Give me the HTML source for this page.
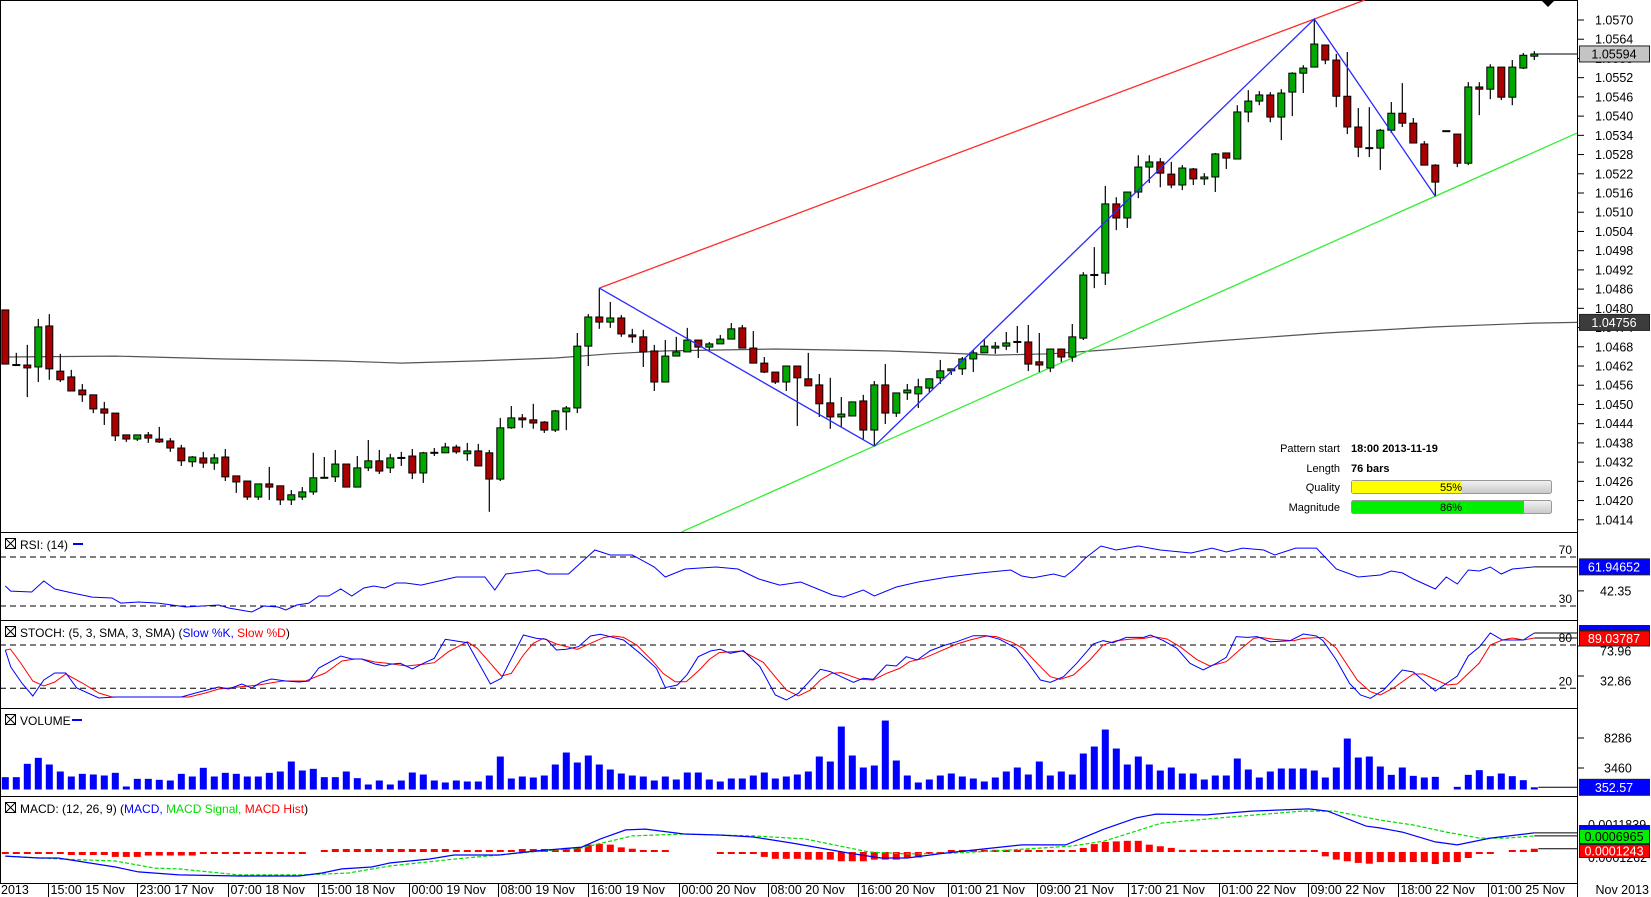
<!DOCTYPE html>
<html><head><meta charset="utf-8"><title>EUR chart</title>
<style>
html,body{margin:0;padding:0;background:#fff;}
svg{display:block;font-family:"Liberation Sans",Arial,sans-serif;}
</style></head>
<body>
<svg id="chart" width="1651" height="897" viewBox="0 0 1651 897" xmlns="http://www.w3.org/2000/svg">
<defs>
<clipPath id="cMain"><rect x="0" y="0" width="1577" height="532"/></clipPath>
<clipPath id="cRsi"><rect x="0" y="532" width="1577" height="88"/></clipPath>
<clipPath id="cSto"><rect x="0" y="620" width="1577" height="88"/></clipPath>
<clipPath id="cVol"><rect x="0" y="708" width="1577" height="88"/></clipPath>
<clipPath id="cMacd"><rect x="0" y="796" width="1577" height="87"/></clipPath>
<linearGradient id="gBar" x1="0" y1="0" x2="0" y2="1"><stop offset="0" stop-color="#f2f2f2"/><stop offset="1" stop-color="#c8c8c8"/></linearGradient>
</defs>
</svg>
<script>
// ---------- DATA ----------
const openP=[1.04795,1.04623,1.04623,1.04617,1.04745,1.04604,1.04586,1.04545,1.04530,1.04486,
1.04473,1.04405,1.04392,1.04405,1.04392,1.04386,1.04364,1.04321,1.04333,1.04317,
1.04336,1.04277,1.04261,1.04211,1.04252,1.04246,1.04202,1.04211,1.04227,1.04271,
1.04274,1.04314,1.04242,1.04302,1.04324,1.04302,1.04333,1.04339,1.04286,1.04349,
1.04349,1.04367,1.04346,1.04355,1.04349,1.04267,1.04427,1.04458,1.04452,1.04445,
1.04420,1.04477,1.04489,1.04682,1.04773,1.04757,1.04770,1.04717,1.04711,1.04667,
1.04570,1.04651,1.04664,1.04701,1.04679,1.04689,1.04704,1.04739,1.04676,1.04629,
1.04601,1.04570,1.04620,1.04580,1.04561,1.04505,1.04461,1.04464,1.04511,1.04420,
1.04561,1.04473,1.04536,1.04533,1.04551,1.04583,1.04605,1.04611,1.04642,1.04661,
1.04676,1.04682,1.04695,1.04695,1.04633,1.04614,1.04673,1.04648,1.04707,1.04904,
1.04910,1.05126,1.05082,1.05163,1.05241,1.05257,1.05219,1.05185,1.05235,1.05204,
1.05210,1.05285,1.05266,1.05413,1.05447,1.05466,1.05397,1.05475,1.05534,1.05553,
1.05622,1.05575,1.05462,1.05366,1.05300,1.05300,1.05356,1.05409,1.05378,1.05313,
1.05247,1.05353,1.05344,1.05253,1.05491,1.05484,1.05553,1.05459,1.05550,1.05587];
const highP=[1.04795,1.04661,1.04686,1.04767,1.04782,1.04658,1.04608,1.04564,1.04530,1.04508,
1.04473,1.04405,1.04405,1.04414,1.04430,1.04395,1.04374,1.04339,1.04352,1.04346,
1.04361,1.04277,1.04261,1.04252,1.04305,1.04246,1.04233,1.04242,1.04349,1.04336,
1.04358,1.04314,1.04339,1.04389,1.04358,1.04346,1.04352,1.04361,1.04352,1.04364,
1.04380,1.04374,1.04380,1.04377,1.04358,1.04458,1.04495,1.04470,1.04502,1.04448,
1.04483,1.04495,1.04723,1.04782,1.04863,1.04820,1.04779,1.04736,1.04733,1.04686,
1.04701,1.04711,1.04739,1.04701,1.04695,1.04717,1.04754,1.04748,1.04729,1.04648,
1.04601,1.04620,1.04620,1.04661,1.04595,1.04583,1.04523,1.04508,1.04530,1.04573,
1.04626,1.04536,1.04564,1.04580,1.04580,1.04639,1.04611,1.04648,1.04670,1.04704,
1.04695,1.04726,1.04745,1.04748,1.04723,1.04673,1.04673,1.04751,1.04913,1.04991,
1.05182,1.05147,1.05163,1.05278,1.05278,1.05269,1.05257,1.05247,1.05238,1.05222,
1.05285,1.05285,1.05434,1.05481,1.05478,1.05475,1.05484,1.05537,1.05559,1.05703,
1.05622,1.05594,1.05600,1.05425,1.05428,1.05360,1.05444,1.05503,1.05394,1.05322,
1.05250,1.05353,1.05344,1.05506,1.05506,1.05562,1.05553,1.05575,1.05597,1.05603];
const lowP=[1.04626,1.04620,1.04523,1.04570,1.04577,1.04570,1.04542,1.04508,1.04473,1.04436,
1.04386,1.04383,1.04386,1.04380,1.04380,1.04352,1.04308,1.04305,1.04302,1.04296,
1.04261,1.04224,1.04202,1.04202,1.04202,1.04186,1.04186,1.04202,1.04218,1.04271,
1.04258,1.04242,1.04242,1.04292,1.04283,1.04286,1.04308,1.04267,1.04255,1.04339,
1.04349,1.04346,1.04324,1.04308,1.04165,1.04261,1.04424,1.04427,1.04424,1.04411,
1.04414,1.04420,1.04473,1.04620,1.04736,1.04739,1.04711,1.04692,1.04617,1.04542,
1.04570,1.04651,1.04664,1.04645,1.04670,1.04689,1.04704,1.04676,1.04629,1.04598,
1.04564,1.04542,1.04433,1.04558,1.04461,1.04424,1.04430,1.04464,1.04389,1.04370,
1.04439,1.04461,1.04514,1.04489,1.04539,1.04564,1.04592,1.04592,1.04601,1.04661,
1.04658,1.04670,1.04661,1.04604,1.04601,1.04601,1.04633,1.04633,1.04701,1.04863,
1.04873,1.05044,1.05051,1.05144,1.05191,1.05178,1.05175,1.05169,1.05185,1.05185,
1.05163,1.05235,1.05266,1.05381,1.05434,1.05381,1.05325,1.05400,1.05472,1.05553,
1.05562,1.05428,1.05344,1.05272,1.05272,1.05232,1.05347,1.05366,1.05316,1.05247,
1.05150,1.05353,1.05241,1.05247,1.05403,1.05453,1.05450,1.05434,1.05547,1.05575];
const closeP=[1.04626,1.04623,1.04614,1.04742,1.04611,1.04577,1.04542,1.04530,1.04486,1.04473,
1.04402,1.04392,1.04405,1.04395,1.04383,1.04364,1.04324,1.04336,1.04317,1.04333,
1.04274,1.04258,1.04211,1.04252,1.04242,1.04202,1.04218,1.04227,1.04271,1.04271,
1.04314,1.04242,1.04302,1.04324,1.04292,1.04333,1.04333,1.04286,1.04349,1.04349,
1.04367,1.04352,1.04355,1.04308,1.04267,1.04427,1.04458,1.04452,1.04442,1.04420,
1.04480,1.04489,1.04682,1.04773,1.04757,1.04770,1.04720,1.04711,1.04664,1.04570,
1.04651,1.04664,1.04701,1.04679,1.04689,1.04704,1.04736,1.04676,1.04629,1.04601,
1.04570,1.04620,1.04583,1.04558,1.04502,1.04461,1.04470,1.04508,1.04420,1.04561,
1.04473,1.04536,1.04545,1.04555,1.04580,1.04605,1.04611,1.04642,1.04661,1.04682,
1.04682,1.04692,1.04695,1.04626,1.04623,1.04673,1.04648,1.04711,1.04904,1.04904,
1.05126,1.05082,1.05163,1.05241,1.05257,1.05222,1.05185,1.05238,1.05204,1.05210,
1.05282,1.05269,1.05413,1.05447,1.05466,1.05397,1.05472,1.05534,1.05550,1.05625,
1.05575,1.05462,1.05366,1.05303,1.05300,1.05356,1.05409,1.05378,1.05316,1.05247,
1.05194,1.05353,1.05253,1.05491,1.05484,1.05553,1.05459,1.05553,1.05590,1.05594];
const maIdx=[0,10,20,30,36,43,50,55,60,70,80,85,90,95,100,110,120,130,139];
const maVal=[1.04648,1.04651,1.04642,1.04636,1.04629,1.04636,1.04645,1.04658,1.04667,1.04673,1.04667,1.04661,1.04654,1.04658,1.04670,1.04698,1.04723,1.04742,1.04754];
const maLast=1.04756;
const pivotIdx=[54,79,119,130];
const priceTicks=[1.0570,1.0564,1.0558,1.0552,1.0546,1.0540,1.0534,1.0528,1.0522,1.0516,1.0510,1.0504,1.0498,1.0492,1.0486,1.0480,1.0474,1.0468,1.0462,1.0456,1.0450,1.0444,1.0438,1.0432,1.0426,1.0420,1.0414];
const volume=[1985,1985,4130,5095,4023,2896,2092,2521,2414,2253,2682,483,1716,1716,1555,1448,2521,2092,3487,2092,
2682,2521,2092,2092,2682,2896,4505,3057,3325,1985,1985,2896,1823,805,1448,
804,1447,2734,2412,1447,1126,1447,1286,1286,2251,5306,1769,2090,1930,2251,4020,5950,4342,5467,4020,3216,2573,2251,2090,1447,
2090,1608,2734,2734,1608,1286,1769,1769,2251,2734,1769,2090,2412,2894,5306,4502,10130,5467,3538,3859,11095,
4663,2251,1126,1608,2251,2573,2090,1769,1286,1930,2894,3538,2412,4502,2251,2894,2412,5789,6914,9648,6592,4020,5306,4020,3055,3538,2573,2573,1608,2251,2251,4985,3216,1930,2894,3377,3377,3377,3055,1930,3538,8201,5146,5306,3698,2358,3538,
2198,1930,2037,0,429,2358,3109,2144,2573,2144,1501,353];
const volTicks=[8286,3460];
const volLast=352.57;
const rsiIdx=[0,0.5,2.4,3.5,4.5,6.1,7.9,9.7,10.5,12.1,13.9,15.8,16.4,19.4,20.3,22.4,23.5,24.8,25.5,26.5,27.6,28.5,29.4,30.5,31.5,32.6,33.5,34.5,35.5,36.4,37.8,41,43.6,44.5,45.5,48.4,49.3,51.2,52.2,53.6,55,57,59,60,61.8,64.6,66.6,68.5,70.4,72.3,75.2,76.2,78,79,81,83,85.7,88.6,91.4,92.4,93.4,95.3,96.3,97.2,98.2,99.6,101,103,105,107.8,109.7,111,112.5,114.4,115.4,117.3,119.2,121,123,125,126,127,128,129,130,131,132,133,134,135,136,137,138,139];
const rsiVal=[46.3,42.2,41.4,50.4,43.9,40.6,37.3,36.5,32.4,33.3,32.4,30.0,29.2,30.8,28.4,25.1,30.0,29.2,26.7,30.8,32.4,38.2,38.2,43.9,38.2,44.7,46.3,44.7,48.8,48.8,47.1,53.7,53.7,43.1,56.1,59.4,56.1,56.1,64.3,75.7,71.6,71.6,61.8,53.7,60.2,61.8,60.2,52.0,47.1,49.6,39.0,37.3,43.1,38.2,45.5,49.6,53.7,56.9,59.4,54.5,52.9,56.1,53.7,60.2,69.2,79.0,75.7,79.0,75.7,73.3,77.3,74.1,77.3,75.7,71.6,77.3,77.3,60.2,53.7,55.3,58.6,57.0,52.0,48.0,43.9,53.7,48.0,59.4,58.6,61.8,56.1,60.2,61.0,61.9];
const rsiLast=61.94652;
const kIdx=[0,0.5,1.5,2.5,3.5,4.5,5.5,6.5,8.5,10,13,16,17.3,19.4,20.3,21.5,22.4,23.3,24.2,25.5,26.7,27.6,28.5,30.5,31.5,32.4,33.6,34.5,35,35.9,37,38,39,40,41,42,44.1,45.1,47.1,48.3,49.2,50.1,51,52.1,53.2,54.1,55,56.2,57.7,59.2,60,61.1,62,63,64.1,65,65.9,67.1,68.6,70,71,72.1,74.1,75,77.1,78,78.9,80.1,81,81.9,82.9,84.1,85.3,86.5,88,89.2,90.4,91.9,92.9,94.1,95,96.2,97.4,98.9,99.8,100.7,101.9,103.5,104.1,105.3,106.5,107.7,108.9,110.1,111,111.9,112.9,113.8,115,116.8,118,119.2,119.8,121,122.2,123.2,124.1,125.3,127,128,130,132,133,134,135,136.1,138,139];
const kVal=[73,49.5,27.3,9.3,31.5,41.2,41.2,20.4,6.5,7.9,7.9,7.9,13.5,21.8,19,26,20.4,28.7,32.9,30.1,28.7,30.1,48.1,64.8,60.6,60.6,53.7,50.9,53.2,54.6,46.7,54.6,61.5,87.9,85.5,83.2,25.9,33.8,93.9,89.2,87.9,73.1,74,77.7,92.5,94.8,91.5,86.9,68.5,47.6,20.9,24.6,39.4,63.8,71.7,74,68.5,72.2,50,10.7,3.8,13,46.3,43.1,28.3,33.8,32.4,52.3,50.9,63.8,59.2,72.2,79.1,84.6,92.9,92.9,87.9,75.4,56.9,31.5,28.3,36.1,54.6,81.4,86,83.2,90.6,90.6,93.9,86,75.4,54.6,45.4,54.6,62.9,91.6,90.6,91.6,84.6,86,95.2,92.5,86,59.2,26.9,10.7,6.1,17.6,45.3,42.6,16.2,37,64.8,77.2,96.6,86.9,86.9,96.6];
const dIdx=[0,0.45,1.4,2.5,3.5,4.5,5.5,7,8.5,9.7,16.7,18.2,19.4,21.2,23,25.2,27.3,29.1,30.6,31.8,32.4,33.6,34.5,36.5,38,39,40.3,42,42.9,44.1,45.1,46,47.1,48,48.9,50.1,52,53.2,54.4,55.3,56.2,57.4,58.9,59.8,60.9,61.9,63.1,64,64.9,66.1,67,68.9,70.1,71,72.1,73.2,74.1,75.1,76,77.7,78.9,80.1,81.3,82.2,83.5,84.7,86.5,87.7,89.2,90.1,91.6,92.5,93.8,95,95.9,97.1,98.6,99.8,101,102.2,103.5,104.4,105.6,106.8,108.3,109.5,111,112.2,113.5,114.1,115.3,117.1,118,119.8,121,122.9,124.1,125,126.2,128,128.9,131.1,132,134,135,136.1,137,138,139];
const dVal=[73,74.5,55.1,30.1,23.2,28.7,39.8,27.3,13.5,7.9,7.9,13.5,19,21.8,24.6,30.1,30.1,41.2,57.8,60.6,60.6,56.4,55,50.9,53.2,55.5,70.8,84.6,75.4,54.6,37,40.7,66.2,82.3,89.2,81.4,74,82.3,90.2,92.5,90.6,80,56.9,40.7,29.2,29.2,45.4,60.1,69.4,70.8,71.7,56,33.8,17.6,9.3,17.6,31.5,40.7,41.7,32.4,31.5,40.7,47.6,56.9,61.5,69.4,81.4,86.9,92.5,91.6,83.2,75.4,54.6,36.1,32.4,38.4,59.2,80,86,87.9,89.2,91.6,88.3,77.7,60.1,50.9,56.9,73.1,89.2,90.6,87.9,86,89.2,90.6,75.4,31.5,15.3,10.7,20.4,39.8,39.8,24.6,26,55,80,86.9,89.7,86.9,89.7];
const stoLast=89.03787;
// MACD values in units of 1e-5
const macdIdx=[0,3,4.8,10,12.1,15.8,21.2,26.7,28.8,30.6,33.3,35,38.5,40.8,44.9,48.3,52.4,54.1,56.4,58.2,61.7,65.1,68,71.5,76.7,79.6,82,85.4,88.9,92.4,96.4,99.9,102.8,104.6,109.2,113.3,118.5,120.2,123.7,125,127,130,132,135,139];
const macdE5=[-15,-22,-22,-55,-73,-84,-88,-88,-77,-62,-55,-40,-26,-11,-11,4,18,48,81,84,66,62,55,33,-4,-22,-22,-4,11,26,26,84,125,139,136,150,158,150,95,88,73,37,26,51,70];
const sigIdx=[0,5.2,10,13.6,15.8,21.2,26.7,28.8,31.2,35,40.8,47.8,52.4,57,61.7,68,72.7,78.5,82,86,90.1,97,99.9,105.1,110.4,117.9,120.8,125,128,131,134,136.5,139];
const sigE5=[-15,-26,-33,-59,-62,-84,-84,-81,-77,-51,-26,0,15,59,66,59,48,0,-7,-4,4,22,40,106,125,150,150,117,99,73,51,51,59];
const histE5=[-3,-3,-3,-3,-6,-6,-11,-11,-11,-11,-18,-18,-18,-13,-13,-13,-13,-13,-4,-4,
-4,-4,-4,-4,-4,-4,-4,-4,0,3,11,11,11,11,11,11,11,11,11,11,
11,6,6,6,5,5,5,11,11,11,11,15,18,27,30,27,17,12,4,2,
1,0,0,0,0,-1,-1,-1,-1,-18,-25,-25,-25,-28,-28,-28,-34,-34,-34,-28,
-28,-28,-20,-20,-3,-3,4,4,4,8,8,8,8,8,2,2,2,2,15,29,
37,39,41,41,27,21,15,8,8,8,6,6,5,5,6,6,5,5,6,5,
-16,-28,-34,-40,-43,-37,-37,-37,-37,-37,-44,-37,-37,-22,-7,-3,0,6,8,12];
const macdLabels=["0.0006965","0.0001243"];
const xTickIdx=[3.9,12,20.25,28.4,36.7,44.8,53,61.2,69.3,77.5,85.7,93.8,102.1,110.3,118.4,126.6,134.8];
const xTickLabels=["15:00 15 Nov","23:00 17 Nov","07:00 18 Nov","15:00 18 Nov","00:00 19 Nov","08:00 19 Nov","16:00 19 Nov","00:00 20 Nov","08:00 20 Nov","16:00 20 Nov","01:00 21 Nov","09:00 21 Nov","17:00 21 Nov","01:00 22 Nov","09:00 22 Nov","18:00 22 Nov","01:00 25 Nov"];
const qualityPct=55, magnitudePct=86;

// ---------- SCALES ----------
const AX=1577;
const NS="http://www.w3.org/2000/svg";
const svg=document.getElementById('chart');
function xOf(i){return 5.3+11*i;}
function yP(p){return 20+(1.0570-p)*32037;}
function yR(v){return 557+(70-v)*1.225;}
function yS(v){return 645+(80-v)/1.386;}
function yV(v){return 789.5-v/160.9;}
function yM(e5){return 852-e5*1e-5/0.0000367;}
function mk(tag,attrs,parent){const e=document.createElementNS(NS,tag);for(const k in attrs)e.setAttribute(k,attrs[k]);(parent||svg).appendChild(e);return e;}
function grp(clip){const g=mk('g',clip?{'clip-path':'url(#'+clip+')'}:{});return g;}
function pts(idx,vals,fy){return idx.map((t,k)=>xOf(t).toFixed(1)+','+fy(vals[k]).toFixed(1)).join(' ');}

// ---------- FRAME ----------
const frame=grp();


[0.5,532.5,620.5,708.5,796.5,883.5].forEach(y=>{const l=mk('line',{x1:0,y1:y,x2:AX,y2:y,stroke:'#000','stroke-width':1},frame);

});
const lb=mk('line',{x1:0.5,y1:0,x2:0.5,y2:884,stroke:'#000'},frame);


const ax=mk('line',{x1:AX+0.5,y1:0,x2:AX+0.5,y2:897,stroke:'#000'},frame);


const tri=mk('polygon',{points:'1541,0 1555,0 1548,7',fill:'#000'},frame);



// ---------- MAIN PRICE PANEL ----------
const gMain=grp('cMain');


const maPts=pts(maIdx,maVal,yP)+' '+AX+','+yP(maLast).toFixed(1);
const ma=mk('polyline',{points:maPts,fill:'none',stroke:'#555',"stroke-width":1.2},gMain);


const pA=[xOf(pivotIdx[0]),yP(highP[pivotIdx[0]])], pB=[xOf(pivotIdx[1]),yP(lowP[pivotIdx[1]])];
const pC=[xOf(pivotIdx[2]),yP(highP[pivotIdx[2]])], pD=[xOf(pivotIdx[3]),yP(lowP[pivotIdx[3]])];
const sR=(pC[1]-pA[1])/(pC[0]-pA[0]);
const redL=mk('line',{x1:pA[0],y1:pA[1],x2:pA[0]+(0-pA[1])/sR,y2:0,stroke:'#ff2a2a','stroke-width':1.3},gMain);


const sG=(pD[1]-pB[1])/(pD[0]-pB[0]);
const gx0=pB[0]+(532-pB[1])/sG;
const grnL=mk('line',{x1:gx0,y1:532,x2:AX,y2:pB[1]+(AX-pB[0])*sG,stroke:'#33ee33','stroke-width':1.3},gMain);


for(let i=0;i<openP.length;i++){
  const x=xOf(i),o=openP[i],c=closeP[i],h=highP[i],l=lowP[i];
  const g=mk('g',{},gMain);
  
  
  if(h!==l){const w=mk('line',{x1:x,y1:yP(h),x2:x,y2:yP(l),stroke:'#000','stroke-width':1.2},g);
    
    }
  const top=yP(Math.max(o,c)),bot=yP(Math.min(o,c));
  if(bot-top<1.5){const d=mk('line',{x1:x-4,y1:top,x2:x+4,y2:top,stroke:'#000','stroke-width':2},g);
    
    }
  else{const b=mk('rect',{x:x-3.5,y:top,width:7,height:bot-top,fill:c>=o?'#00a800':'#aa0000',stroke:'#000','stroke-width':1},g);
    
    }
}
const zz=mk('polyline',{points:[pA,pB,pC,pD].map(p=>p[0].toFixed(1)+','+p[1].toFixed(1)).join(' '),fill:'none',stroke:'#2a2aff','stroke-width':1.3},gMain);


const lastI=closeP.length-1;
const lpl=mk('line',{x1:xOf(lastI)+4,y1:yP(closeP[lastI]),x2:AX,y2:yP(closeP[lastI]),stroke:'#000'},svg);


priceTicks.forEach(p=>{const y=yP(p);
  const t=mk('line',{x1:AX,y1:y,x2:AX+7,y2:y,stroke:'#000'});
  
  
  const tx=mk('text',{x:1595,y:y+4.5,'font-size':12.5,fill:'#000'});tx.textContent=p.toFixed(4);
  
  });
function box(y,txt,fill,col,name,h){const g=mk('g',{});
  
  
  mk('rect',{x:1579.5,y:y-(h||16)/2,width:70,height:(h||16),fill:fill,stroke:'#222'},g);
  const t=mk('text',{x:1614,y:y+4.5,'font-size':12.5,fill:col,'text-anchor':'middle'},g);t.textContent=txt;return g;}
box(yP(closeP[lastI]),closeP[lastI].toFixed(5),'#c4c4c4','#000','last-price-label');
box(yP(maLast),maLast.toFixed(5),'#3c3c3c','#fff','ma-value-label');

const info=mk('g',{});


[["Pattern start","18:00 2013-11-19",448],["Length","76 bars",468]].forEach(r=>{
  const a=mk('text',{x:1340,y:r[2]+4,'font-size':11,'text-anchor':'end'},info);a.textContent=r[0];
  const b=mk('text',{x:1351,y:r[2]+4,'font-size':11,'font-weight':'bold'},info);b.textContent=r[1];});
[["Quality",qualityPct,'#ffff00',487,'quality-bar'],["Magnitude",magnitudePct,'#00ee00',507,'magnitude-bar']].forEach(r=>{
  const a=mk('text',{x:1340,y:r[3]+4,'font-size':11,'text-anchor':'end'},info);a.textContent=r[0];
  const g=mk('g',{},info);
  
  
  mk('rect',{x:1351.5,y:r[3]-6.5,width:200,height:13,rx:2,fill:'url(#gBar)',stroke:'#999'},g);
  mk('rect',{x:1352,y:r[3]-6,width:2*r[1],height:12,fill:r[2]},g);
  const t=mk('text',{x:1451,y:r[3]+4,'font-size':11,'text-anchor':'middle'},g);t.textContent=r[1]+'%';});

function header(y,parts,name){const g=mk('g',{});
  
  
  const ic=mk('g',{},g);
  
  
  mk('rect',{x:5.5,y:y-9.5,width:10,height:10,fill:'#fff',stroke:'#000'},ic);
  mk('path',{d:`M5.5 ${y-9.5} L15.5 ${y+0.5} M15.5 ${y-9.5} L5.5 ${y+0.5}`,stroke:'#000'},ic);
  const t=mk('text',{x:20,y:y+1,'font-size':12},g);
  parts.forEach(p=>{const s=mk('tspan',{fill:p[1]},t);s.textContent=p[0];});
  return t;}
header(548,[["RSI: (14) ",'#000']],'rsi-header');
const rd=mk('line',{x1:73,y1:544,x2:83,y2:544,stroke:'#0000ff','stroke-width':2});


header(636,[["STOCH: (5, 3, SMA, 3, SMA) (",'#000'],["Slow %K, ",'#0000ff'],["Slow %D",'#ff0000'],[")",'#000']],'stoch-header');
header(724,[["VOLUME ",'#000']],'volume-header');
const vd=mk('line',{x1:72,y1:720,x2:82,y2:720,stroke:'#0000ff','stroke-width':2});


header(812,[["MACD: (12, 26, 9) (",'#000'],["MACD, ",'#0000ff'],["MACD Signal, ",'#00dd00'],["MACD Hist",'#ff0000'],[")",'#000']],'macd-header');

const gR=grp('cRsi');


[70,30].forEach(v=>{const l=mk('line',{x1:0,y1:yR(v),x2:AX,y2:yR(v),stroke:'#000','stroke-dasharray':'6,4'},gR);
  
  
  const t=mk('text',{x:1572,y:yR(v)-3,'font-size':12,'text-anchor':'end'},gR);t.textContent=v;});
const rl=mk('polyline',{points:pts(rsiIdx,rsiVal,yR),fill:'none',stroke:'#0000ff','stroke-width':1},gR);


mk('line',{x1:xOf(139),y1:yR(rsiLast),x2:AX,y2:yR(rsiLast),stroke:'#000'});
const r42=mk('line',{x1:AX,y1:yR(42.35),x2:AX+7,y2:yR(42.35),stroke:'#000'});


const rt=mk('text',{x:1600,y:yR(42.35)+4.5,'font-size':12.5});rt.textContent='42.35';


box(yR(rsiLast),rsiLast.toFixed(5),'#0000ff','#fff','rsi-value-label');

const gS=grp('cSto');


[80,20].forEach(v=>{const l=mk('line',{x1:0,y1:yS(v),x2:AX,y2:yS(v),stroke:'#000','stroke-dasharray':'6,4'},gS);
  
  
  const t=mk('text',{x:1572,y:yS(v)-3,'font-size':12,'text-anchor':'end'},gS);t.textContent=v;});
const dl=mk('polyline',{points:pts(dIdx,dVal,yS),fill:'none',stroke:'#ff0000','stroke-width':1},gS);


const kl=mk('polyline',{points:pts(kIdx,kVal,yS),fill:'none',stroke:'#0000ff','stroke-width':1},gS);


mk('line',{x1:xOf(139),y1:yS(kVal[kVal.length-1]),x2:AX,y2:yS(kVal[kVal.length-1]),stroke:'#000'});
mk('line',{x1:xOf(139),y1:yS(dVal[dVal.length-1]),x2:AX,y2:yS(dVal[dVal.length-1]),stroke:'#000'});
[[73.96,651],[32.86,681]].forEach(a=>{const t=mk('text',{x:1600,y:a[1]+4.5,'font-size':12.5});t.textContent=a[0].toFixed(2);
  
  
  mk('line',{x1:AX,y1:a[1]-5,x2:AX+7,y2:a[1]-5,stroke:'#000'});});
const kb=mk('rect',{x:1579.5,y:625.5,width:70,height:5,fill:'#0000ff',stroke:'#222'});


box(638.5,stoLast.toFixed(5),'#ff0000','#fff','stoch-d-value-label',15);

const gV=grp('cVol');


volume.forEach((v,i)=>{if(v<=0)return;
  const b=mk('rect',{x:xOf(i)-3.5,y:yV(v),width:7,height:789.5-yV(v),fill:'#0000ff'},gV);
  
  });
mk('line',{x1:xOf(139)+4,y1:yV(volLast),x2:AX,y2:yV(volLast),stroke:'#000'});
volTicks.forEach(v=>{const y=yV(v);mk('line',{x1:AX,y1:y,x2:AX+7,y2:y,stroke:'#000'});
  const t=mk('text',{x:1604,y:y+4.5,'font-size':12.5});t.textContent=v;
  
  });
box(yV(volLast),volLast.toFixed(2),'#0000ff','#fff','volume-value-label');

const gM=grp('cMacd');


histE5.forEach((v,i)=>{if(v===0)return;
  const y0=yM(0),y1=yM(v);let top=Math.min(y0,y1),h=Math.abs(y1-y0);if(h<2){h=2;top=v>0?y0-2:y0;}
  const b=mk('rect',{x:xOf(i)-3.5,y:top,width:7,height:h,fill:'#ff0000'},gM);
  
  });
const sl=mk('polyline',{points:pts(sigIdx,sigE5,yM),fill:'none',stroke:'#00dd00','stroke-width':1.2,'stroke-dasharray':'4,2'},gM);


const ml=mk('polyline',{points:pts(macdIdx,macdE5,yM),fill:'none',stroke:'#0000ff','stroke-width':1.2},gM);


mk('line',{x1:xOf(139),y1:yM(macdE5[macdE5.length-1]),x2:AX,y2:yM(macdE5[macdE5.length-1]),stroke:'#000'});
mk('line',{x1:xOf(139),y1:yM(sigE5[sigE5.length-1]),x2:AX,y2:yM(sigE5[sigE5.length-1]),stroke:'#000'});
mk('line',{x1:xOf(139)+4,y1:yM(histE5[139]),x2:AX,y2:yM(histE5[139]),stroke:'#000'});
const hid1=mk('text',{x:1588,y:829,'font-size':12.5});hid1.textContent='0.0011839';


const hid2=mk('text',{x:1588,y:862,'font-size':12.5});hid2.textContent='0.0001262';


const mb=mk('rect',{x:1579.5,y:825.5,width:70,height:4,fill:'#0000ff',stroke:'#222'});


box(836.5,macdLabels[0],'#00ee00','#000','macd-signal-value-label',14);
box(851,macdLabels[1],'#ff0000','#fff','macd-hist-value-label',13);

const gX=mk('g',{});


const y2013=mk('text',{x:1,y:894,'font-size':12.5},gX);y2013.textContent='2013';


xTickIdx.forEach((t,k)=>{const x=Math.round(xOf(t))+0.5;
  const l=mk('line',{x1:x,y1:884,x2:x,y2:897,stroke:'#000'},gX);
  
  
  const tx=mk('text',{x:x+2,y:894,'font-size':12.5},gX);tx.textContent=xTickLabels[k];
  
  });
const nov=mk('text',{x:1649,y:894,'font-size':12.5,'text-anchor':'end'},gX);nov.textContent='Nov 2013';


</script>
</body></html>
